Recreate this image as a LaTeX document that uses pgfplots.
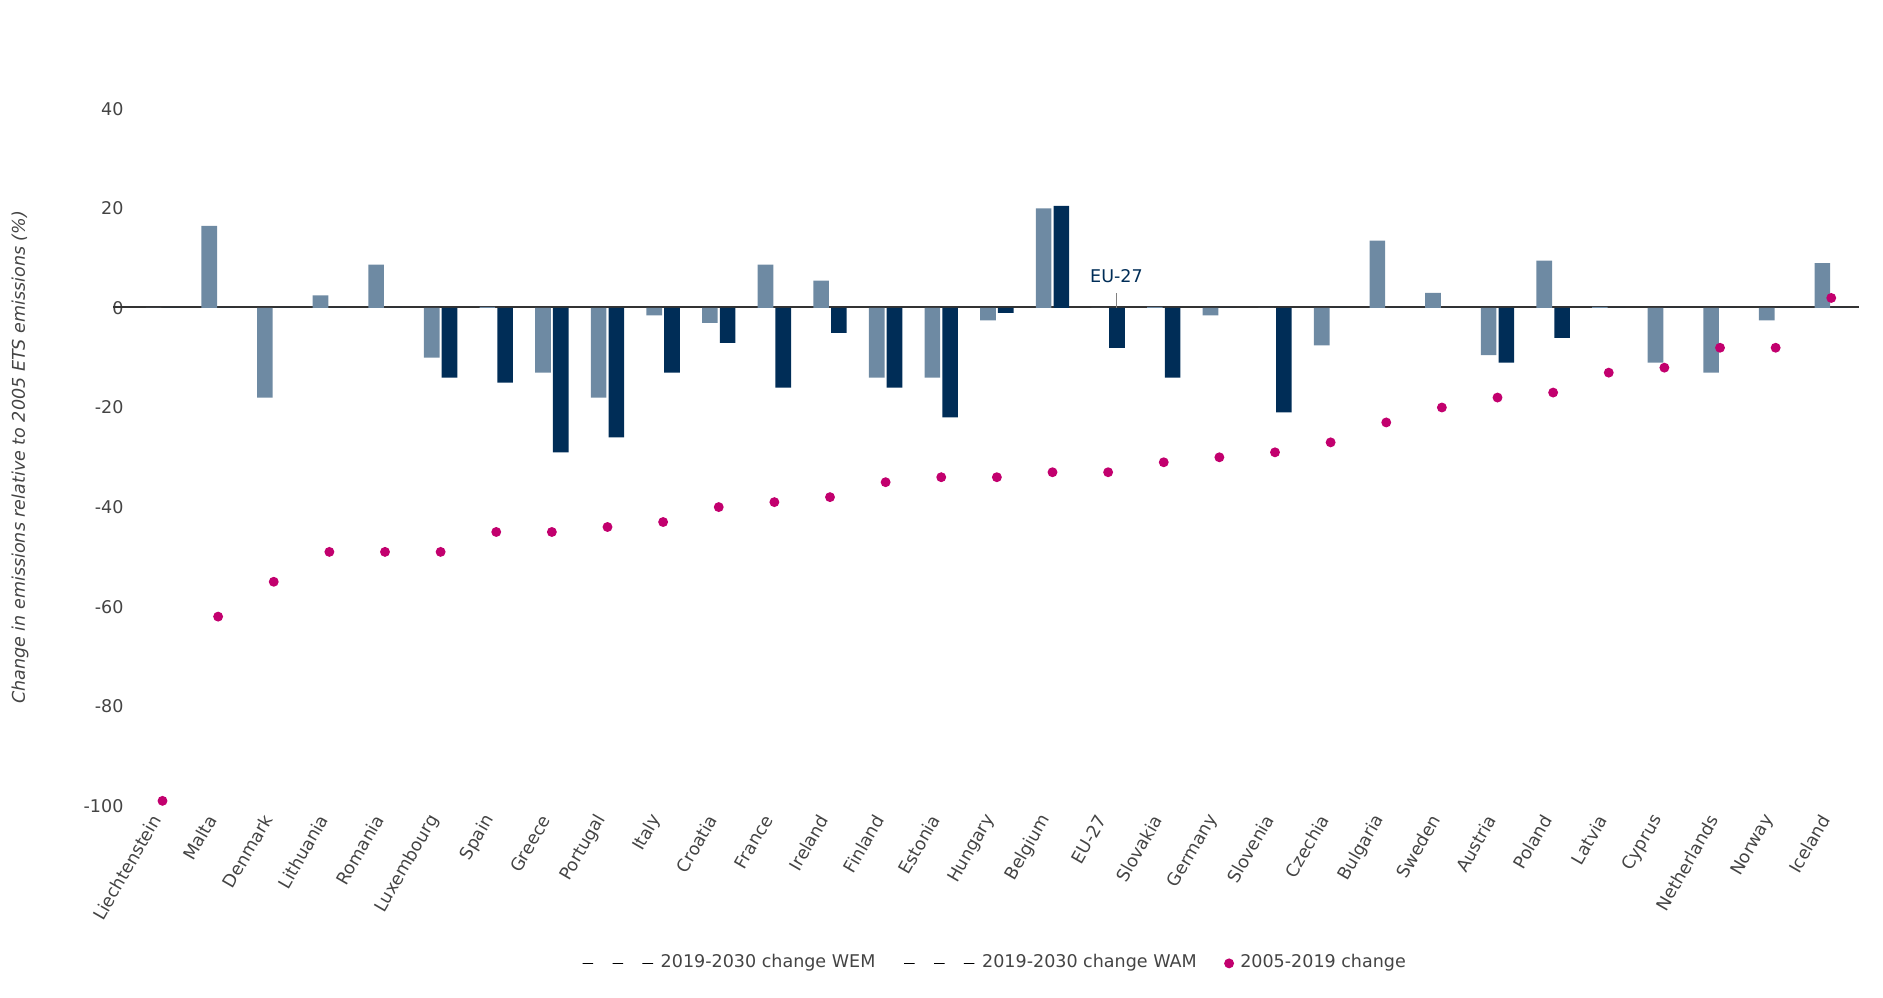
\documentclass[border=0pt]{standalone}
\usepackage{pgfplots}
\pgfplotsset{compat=1.18}
\usepackage{fontspec}
\setmainfont{DejaVu Sans}
\definecolor{wem}{HTML}{6E8AA3}
\definecolor{wam}{HTML}{002D57}
\definecolor{dot}{HTML}{C2006E}
\definecolor{tk}{HTML}{444444}
\begin{document}
\begin{tikzpicture}
\pgfplotstableread{
x wem wam chg
0 0 0 -99
1 16.5 0 -62
2 -18 0 -55
3 2.5 0 -49
4 8.7 0 -49
5 -10 -14 -49
6 0.2 -15 -45
7 -13 -29 -45
8 -18 -26 -44
9 -1.5 -13 -43
10 -3 -7 -40
11 8.7 -16 -39
12 5.5 -5 -38
13 -14 -16 -35
14 -14 -22 -34
15 -2.5 -1 -34
16 20 20.5 -33
17 0 -8 -33
18 0.2 -14 -31
19 -1.5 0 -30
20 0 -21 -29
21 -7.5 0 -27
22 13.5 0 -23
23 3 0 -20
24 -9.5 -11 -18
25 9.5 -6 -17
26 0.2 0 -13
27 -11 0 -12
28 -13 0 -8
29 -2.5 0 -8
30 9 0 2
}\data
\begin{axis}[
 scale only axis, width=172.8mm, height=69.9mm,
 xmin=-0.48, xmax=30.5, ymin=-100, ymax=40,
 axis line style={draw=none},
 tick style={draw=none},
 ytick={-100,-80,...,40},
 xtick={0,...,30},
 xticklabels={Liechtenstein,Malta,Denmark,Lithuania,Romania,Luxembourg,Spain,Greece,Portugal,Italy,Croatia,France,Ireland,Finland,Estonia,Hungary,Belgium,EU-27,Slovakia,Germany,Slovenia,Czechia,Bulgaria,Sweden,Austria,Poland,Latvia,Cyprus,Netherlands,Norway,Iceland},
 xticklabel style={rotate=60, anchor=east, font=\fontsize{5}{6}\selectfont, text=tk},
 yticklabel style={font=\fontsize{5}{6}\selectfont, text=tk},
 /pgf/number format/assume math mode=true,
 ylabel={\itshape Change in emissions relative to 2005 ETS emissions (\%)},
 ylabel style={font=\fontsize{5}{6}\selectfont, text=tk, at={(rel axis cs:-0.055,0.5)}},
 legend style={draw=none, at={(rel axis cs:0.5,-0.226)}, anchor=center, font=\fontsize{5}{6}\selectfont, text=tk, /tikz/every even column/.append style={column sep=6pt}},
 legend columns=3,
 clip=false,
]
\path (rel axis cs:-0.0758,1.156) rectangle (rel axis cs:1.0139,-0.275);
\draw[black!80, line width=0.5pt] (rel axis cs:-0.013,0.7153) -- (rel axis cs:1,0.7153);
\addplot[ybar, bar width=0.28, bar shift=-0.16, fill=wem, draw=none] table[x=x,y=wem]{\data};
\addplot[ybar, bar width=0.28, bar shift=0.16, fill=wam, draw=none] table[x=x,y=wam]{\data};
\addplot[only marks, mark=*, mark size=1.2pt, color=dot] table[x=x,y=chg]{\data};
\legend{2019-2030 change WEM,2019-2030 change WAM,2005-2019 change}
\draw[black!50] (axis cs:17.15,0) -- (axis cs:17.15,3);
\node[font=\fontsize{5}{6}\selectfont, text=wam, anchor=south] at (axis cs:17.15,2.5) {EU-27};
\end{axis}
\end{tikzpicture}
\end{document}
